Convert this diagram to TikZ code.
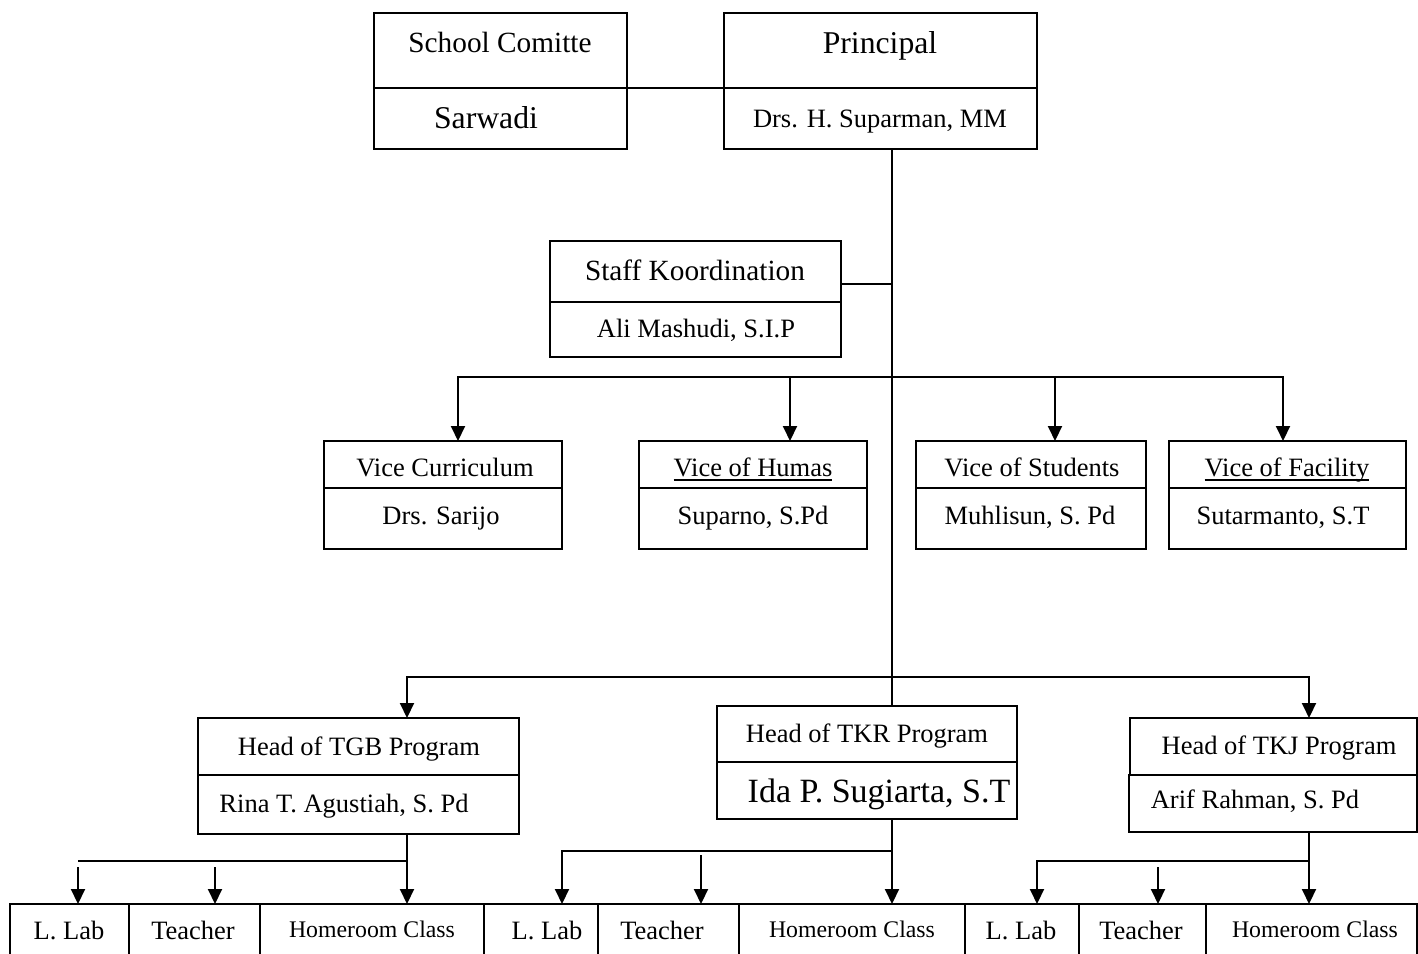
\documentclass[tikz,border=0pt]{standalone}
\usepackage{fontspec}
\setmainfont{Liberation Serif}
\usetikzlibrary{arrows.meta,fit}
\begin{document}
\begin{tikzpicture}[x=1pt,y=-1pt,
  box/.style={draw, line width=2pt, inner sep=0pt, outer sep=0pt},
  txt/.style={inner sep=0pt, outer sep=0pt, anchor=base, font=\fontsize{26.5}{30}\selectfont},
  bigtxt/.style={txt, font=\fontsize{31.7}{34}\selectfont},
  midtxt/.style={txt, font=\fontsize{29.3}{32}\selectfont},
  hugetxt/.style={txt, font=\fontsize{34}{38}\selectfont},
  smalltxt/.style={txt, font=\fontsize{23.8}{27}\selectfont},
  ln/.style={line width=2pt},
  thinln/.style={line width=1.5pt},
  arr/.style={line width=2pt, -{Triangle[length=15pt,width=14pt]}},
]
\clip (0,0) rectangle (1418,953);
\useasboundingbox (0,0) rectangle (1418,953);

% top boxes
\node[box, fit={(374,13)(627,88)}] (sct) {};
\node[box, fit={(374,88)(627,149)}] (scb) {};
\node[box, fit={(724,13)(1037,88)}] (prt) {};
\node[box, fit={(724,88)(1037,149)}] (prb) {};
\node[box, fit={(550,241)(841,302)}] (skt) {};
\node[box, fit={(550,302)(841,357)}] (skb) {};

% vice boxes
\node[box, fit={(324,441)(562,488)}] (vct) {};
\node[box, fit={(324,488)(562,549)}] (vcb) {};
\node[box, fit={(639,441)(867,488)}] (vht) {};
\node[box, fit={(639,488)(867,549)}] (vhb) {};
\node[box, fit={(916,441)(1146,488)}] (vst) {};
\node[box, fit={(916,488)(1146,549)}] (vsb) {};
\node[box, fit={(1169,441)(1406,488)}] (vft) {};
\node[box, fit={(1169,488)(1406,549)}] (vfb) {};

% program heads
\node[box, fit={(198,718)(519,775)}] (tgbt) {};
\node[box, fit={(198,775)(519,834)}] (tgbb) {};
\node[box, fit={(717,706)(1017,762)}] (tkrt) {};
\node[box, fit={(717,762)(1017,819)}] (tkrb) {};
\node[box, fit={(1130,718)(1417,775)}] (tkjt) {};
\node[box, fit={(1129,775)(1417,832)}] (tkjb) {};

% bottom row
\node[box, fit={(10,904)(129,970)}] (ll1) {};
\node[box, fit={(129,904)(260,970)}] (te1) {};
\node[box, fit={(260,904)(484,970)}] (hc1) {};
\node[box, fit={(484,904)(598,970)}] (ll2) {};
\node[box, fit={(598,904)(739,970)}] (te2) {};
\node[box, fit={(739,904)(965,970)}] (hc2) {};
\node[box, fit={(965,904)(1079,970)}] (ll3) {};
\node[box, fit={(1079,904)(1206,970)}] (te3) {};
\node[box, fit={(1206,904)(1417,970)}] (hc3) {};

% texts
\node[midtxt] (t1) at (500,52) {School Comitte};
\node[bigtxt] (t2) at (486,128) {Sarwadi};
\node[bigtxt] (t3) at (880,53) {Principal};
\node[txt] (t4) at (880,127) {Drs. H. Suparman, MM};
\node[midtxt] (t5) at (695,280) {Staff Koordination};
\node[txt] (t6) at (696,337) {Ali Mashudi, S.I.P};
\node[txt] (t7) at (445,476) {Vice Curriculum};
\node[txt] (t8) at (441,524) {Drs. Sarijo};
\node[txt] (t9) at (753,476) {Vice of Humas};
\node[txt] (t10) at (753,524) {Suparno, S.Pd};
\node[txt] (t11) at (1032,476) {Vice of Students};
\node[txt] (t12) at (1030,524) {Muhlisun, S. Pd};
\node[txt] (t13) at (1287,476) {Vice of Facility};
\node[txt] (t14) at (1283,524) {Sutarmanto, S.T};
\node[txt] (t15) at (359,755) {Head of TGB Program};
\node[txt] (t16) at (344,812) {Rina T. Agustiah, S. Pd};
\node[txt] (t17) at (867,742) {Head of TKR Program};
\node[hugetxt] (t18) at (879,802) {Ida P. Sugiarta, S.T};
\node[txt] (t19) at (1279,754) {Head of TKJ Program};
\node[txt] (t20) at (1255,808) {Arif Rahman, S. Pd};
\node[txt] (b1) at (69,939) {L. Lab};
\node[txt] (b2) at (193,939) {Teacher};
\node[smalltxt] (b3) at (372,937) {Homeroom Class};
\node[txt] (b4) at (547,939) {L. Lab};
\node[txt] (b5) at (662,939) {Teacher};
\node[smalltxt] (b6) at (852,937) {Homeroom Class};
\node[txt] (b7) at (1021,939) {L. Lab};
\node[txt] (b8) at (1141,939) {Teacher};
\node[smalltxt] (b9) at (1315,937) {Homeroom Class};

% underlines
\draw[thinln] ([yshift=-4pt]t9.base west) -- ([yshift=-4pt]t9.base east);
\draw[thinln] ([yshift=-4pt]t13.base west) -- ([yshift=-4pt]t13.base east);

% coordinates
\coordinate (j1) at (892,284);
\coordinate (j2) at (892,377);
\coordinate (j3) at (892,677);
\coordinate (va) at (458,377);
\coordinate (vb) at (790,377);
\coordinate (vc) at (1055,377);
\coordinate (vd) at (1283,377);
\coordinate (pa) at (407,677);
\coordinate (pb) at (1309,677);
\coordinate (ga) at (78,861);
\coordinate (gb) at (407,861);
\coordinate (ga2) at (78,867);
\coordinate (gt) at (215,867);
\coordinate (ka) at (562,851);
\coordinate (kb) at (892,851);
\coordinate (kt) at (701,855);
\coordinate (ja) at (1037,861);
\coordinate (jb) at (1309,861);
\coordinate (jt) at (1158,867);

% connectors
\draw[thinln] (sct.south east) -- (prt.south west);
\draw[ln] (prb.south -| j1) -- (tkrt.north -| j1);
\draw[thinln] (skt.east |- j1) -- (j1);
\draw[arr] (j2) -- (va) -- (vct.north -| va);
\draw[arr] (j2) -- (vd) -- (vft.north -| vd);
\draw[arr] (vb) -- (vht.north -| vb);
\draw[arr] (vc) -- (vst.north -| vc);
\draw[arr] (j3) -- (pa) -- (tgbt.north -| pa);
\draw[arr] (j3) -- (pb) -- (tkjt.north -| pb);

\draw[arr] (tgbb.south -| gb) -- (hc1.north -| gb);
\draw[ln] (gb) -- (ga);
\draw[arr] (ga2) -- (ll1.north -| ga2);
\draw[arr] (gt) -- (te1.north -| gt);

\draw[arr] (tkrb.south -| kb) -- (hc2.north -| kb);
\draw[arr] (kb) -- (ka) -- (ll2.north -| ka);
\draw[arr] (kt) -- (te2.north -| kt);

\draw[arr] (tkjb.south -| jb) -- (hc3.north -| jb);
\draw[arr] (jb) -- (ja) -- (ll3.north -| ja);
\draw[arr] (jt) -- (te3.north -| jt);
\end{tikzpicture}
\end{document}
